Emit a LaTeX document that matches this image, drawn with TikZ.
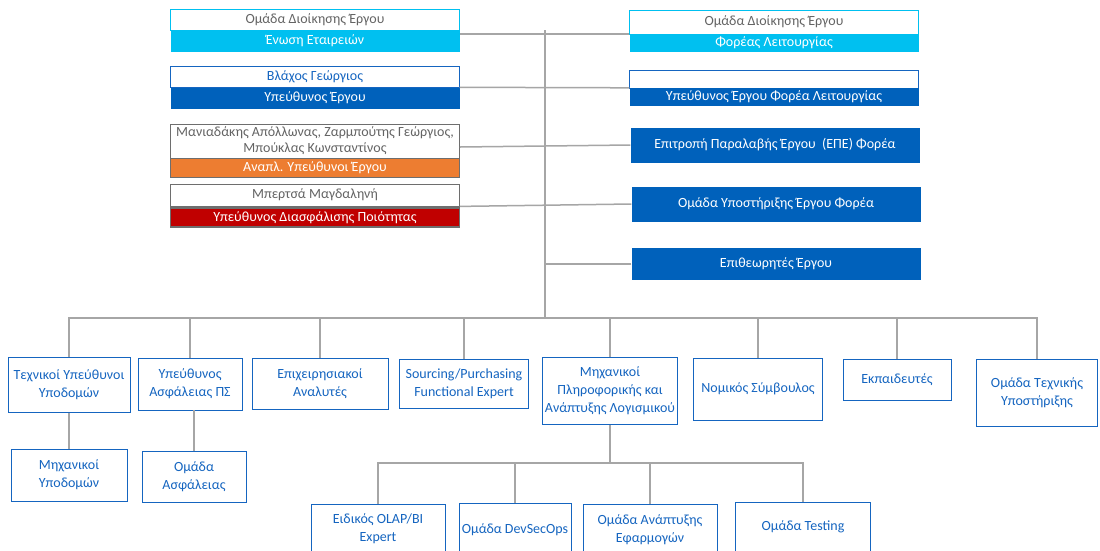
\documentclass[tikz,border=0pt]{standalone}
\usepackage{fontspec}
\setmainfont{Carlito}
\usetikzlibrary{shapes.misc, arrows, calc}

\definecolor{cyanbar}{RGB}{0,192,240}
\definecolor{bluebar}{RGB}{0,97,187}
\definecolor{orangebar}{RGB}{237,125,49}
\definecolor{redbar}{RGB}{192,0,0}
\definecolor{linegrey}{RGB}{166,166,166}
\definecolor{framegrey}{RGB}{110,110,110}
\definecolor{textgrey}{RGB}{100,100,100}
\definecolor{boxblue}{RGB}{21,101,192}

\begin{document}
\begin{tikzpicture}[x=1pt, y=-1pt, node distance=21pt, every node/.style={font=\fontsize{14}{16}\selectfont}]
%
% Skiss:
% Ομάδα Διοίκησης (αριστερά) ---+--- Φορέας (δεξιά)
%                               |
%   ----------------------------+-------------------------
%   |      |      |      |      |      |      |      |
%  ρόλοι ...                 Μηχανικοί --> ομάδες ανάπτυξης
%
\tikzstyle{headcyan} = [rectangle, minimum width=289pt, minimum height=21pt, inner sep=0pt, text centered, draw=cyanbar, fill=white, text=textgrey, line width=0.8pt]
\tikzstyle{headblue} = [rectangle, minimum width=289pt, minimum height=21pt, inner sep=0pt, text centered, draw=boxblue, fill=white, text=boxblue, line width=0.8pt]
\tikzstyle{headgrey} = [rectangle, minimum width=289pt, minimum height=22pt, inner sep=0pt, align=center, draw=framegrey, fill=white, text=textgrey, line width=0.8pt]
\tikzstyle{barcyan} = [rectangle, minimum width=289pt, minimum height=21pt, inner sep=0pt, text centered, fill=cyanbar, text=white]
\tikzstyle{barblue} = [rectangle, minimum width=289pt, minimum height=21pt, inner sep=0pt, text centered, fill=bluebar, text=white]
\tikzstyle{barorange} = [rectangle, minimum width=289pt, minimum height=19pt, inner sep=0pt, text centered, fill=orangebar, draw=framegrey, line width=1.2pt, text=white]
\tikzstyle{barred} = [rectangle, minimum width=289pt, minimum height=19pt, inner sep=0pt, text centered, fill=redbar, draw=framegrey, line width=1.2pt, text=white]
\tikzstyle{bluebox} = [rectangle, minimum width=289pt, minimum height=35pt, inner sep=0pt, text centered, fill=bluebar, text=white]
\tikzstyle{role} = [rectangle, inner sep=2pt, align=center, draw=boxblue, fill=white, text=boxblue, line width=0.9pt, font=\fontsize{14}{18}\selectfont]
\tikzstyle{link} = [draw=linegrey, line width=1.5pt]

\useasboundingbox (0,0) rectangle (1100,550);
\clip (0,0) rectangle (1100,550);
\fill[white] (0,0) rectangle (1100,550);

% Nodes
\node (omadaDioik) [headcyan] at (315,20) {Ομάδα Διοίκησης Έργου};
\node (enosi) [barcyan, below of=omadaDioik] {Ένωση Εταιρειών};
\node (vlachos) [headblue] at (315,77) {Βλάχος Γεώργιος};
\node (ypeuthynos) [barblue, below of=vlachos] {Υπεύθυνος Έργου};
\node (anaplNames) [headgrey, minimum height=34pt] at (315,141) {Μανιαδάκης Απόλλωνας, Ζαρμπούτης Γεώργιος,\\ Μπούκλας Κωνσταντίνος};
\node (anapl) [barorange, below of=anaplNames, yshift=-6pt] {Αναπλ. Υπεύθυνοι Έργου};
\node (mpertsa) [headgrey] at (315,195) {Μπερτσά Μαγδαληνή};
\node (diasfal) [barred, below of=mpertsa, yshift=-1.5pt] {Υπεύθυνος Διασφάλισης Ποιότητας};

\node (omadaForea) [headcyan, minimum height=24pt] at (774,22) {Ομάδα Διοίκησης Έργου};
\node (foreas) [barcyan, minimum height=18pt, below of=omadaForea] {Φορέας Λειτουργίας};
\node (ypForeaBlank) [headblue, minimum height=18pt] at (774,79) {};
\node (ypForea) [barblue, minimum height=18pt, below of=ypForeaBlank, yshift=3pt] {Υπεύθυνος Έργου Φορέα Λειτουργίας};
\node (epe) [bluebox] at (775,145) {Επιτροπή Παραλαβής Έργου\ \ (ΕΠΕ) Φορέα};
\node (ypostirixi) [bluebox] at (776,204) {Ομάδα Υποστήριξης Έργου Φορέα};
\node (epitheorites) [bluebox, minimum height=32pt] at (776,264) {Επιθεωρητές Έργου};

\node (techYp) [role, minimum width=122pt, minimum height=55pt] at (69,385) {Τεχνικοί Υπεύθυνοι\\ Υποδομών};
\node (asfalPS) [role, minimum width=104pt, minimum height=52pt] at (190,384) {Υπεύθυνος\\ Ασφάλειας ΠΣ};
\node (analytes) [role, minimum width=136pt, minimum height=51pt] at (320,384) {Επιχειρησιακοί\\ Αναλυτές};
\node (sourcing) [role, minimum width=129pt, minimum height=49pt] at (464,384) {Sourcing/Purchasing\\ Functional Expert};
\node (mixanPlir) [role, minimum width=134pt, minimum height=67pt] at (610,391) {Μηχανικοί\\ Πληροφορικής και\\ Ανάπτυξης Λογισμικού};
\node (nomikos) [role, minimum width=129pt, minimum height=62pt] at (758,389) {Νομικός Σύμβουλος};
\node (ekpaid) [role, minimum width=108pt, minimum height=41pt] at (897,380) {Εκπαιδευτές};
\node (texUpost) [role, minimum width=121pt, minimum height=67pt] at (1037,393) {Ομάδα Τεχνικής\\ Υποστήριξης};

\node (mixanYpod) [role, minimum width=116pt, minimum height=52pt] at (69,475) {Μηχανικοί\\ Υποδομών};
\node (omadaAsfal) [role, minimum width=104pt, minimum height=51pt] at (194,477) {Ομάδα\\ Ασφάλειας};
\node (olap) [role, minimum width=134pt, minimum height=50pt] at (378,529) {Ειδικός OLAP/BI\\ Expert};
\node (devsecops) [role, minimum width=112pt, minimum height=54pt] at (515,530) {Ομάδα DevSecOps};
\node (efarmoges) [role, minimum width=134pt, minimum height=52pt] at (650,530) {Ομάδα Ανάπτυξης\\ Εφαρμογών};
\node (testing) [role, minimum width=135pt, minimum height=50pt] at (803,527) {Ομάδα Testing};

\coordinate (bus) at (545,318);
\coordinate (devbus) at (610,463);

% Lines
\draw [link] (bus) -- (bus |- enosi.north);
\draw [link] (foreas.north west) -- (foreas.north west -| enosi.east);
\draw [link] (ypeuthynos.north east) -- (ypForea.north west);
\draw [link] ([yshift=-6pt]anaplNames.east) -- (epe.west);
\draw [link] (mpertsa.south east) -- (ypostirixi.west);
\draw [link] (epitheorites.west) -- (epitheorites.west -| bus);
\foreach \n in {techYp, asfalPS, analytes, sourcing, mixanPlir, nomikos, ekpaid, texUpost}
  \draw [link] (\n.north) |- (bus);
\draw [link] (techYp.south) -- (mixanYpod.north);
\draw [link] (omadaAsfal.north) -- (omadaAsfal.north |- asfalPS.south);
\draw [link] (mixanPlir.south) -- (devbus);
\foreach \n in {olap, devsecops, efarmoges, testing}
  \draw [link] (\n.north) |- (devbus);

\end{tikzpicture}
\end{document}
